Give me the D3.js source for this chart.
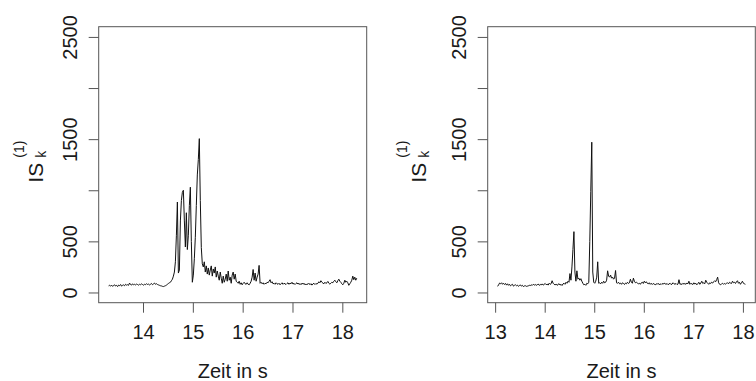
<!DOCTYPE html>
<html>
<head>
<meta charset="utf-8">
<script src="https://cdn.jsdelivr.net/npm/d3@7"></script>
<style>
  html, body { margin: 0; padding: 0; background: #fff; }
  svg { display: block; }
  text { font-family: "Liberation Sans", Arial, Helvetica, sans-serif; fill: #1a1a1a; }
</style>
</head>
<body>
<svg id="chart" width="756" height="381"></svg>
<script>
// Sampling: both series are sampled every 0.02 s
const step = 0.02;
const startLeft = 13.31;
const startRight = 13.05;

// Left panel: IS_k^(1) values
const valuesLeft = [
  65, 70, 62, 72, 60, 68, 75, 63, 70, 58,
  72, 66, 78, 62, 70, 74, 66, 80, 72, 76,
  70, 92, 78, 72, 84, 76, 80, 74, 82, 78,
  72, 80, 76, 84, 78, 72, 80, 76, 86, 78,
  82, 74, 80, 88, 76, 84, 92, 80, 86, 78,
  74, 70, 66, 64, 60, 58, 62, 66, 72, 80,
  88, 95, 100, 115, 130, 160, 200, 300, 560, 885,
  190, 220, 700, 900, 980, 1000, 700, 445, 780, 420,
  560, 850, 1030, 500, 100, 170, 330, 540, 850, 1150,
  1300, 1505, 900, 440, 280, 250, 300, 200, 260, 180,
  240, 170, 220, 260, 160, 230, 190, 250, 150, 210,
  160, 120, 200, 140, 90, 160, 100, 130, 180, 110,
  210, 120, 150, 90, 170, 200, 130, 180, 110, 100,
  90, 110, 80, 95, 75, 90, 100, 85, 80, 95,
  80, 75, 90, 110, 150, 225, 120, 190, 110, 150,
  180, 265, 90, 100, 85, 95, 80, 90, 85, 100,
  95, 110, 125, 95, 105, 85, 90, 80, 95, 85,
  80, 90, 75, 85, 95, 80, 90, 85, 78, 88,
  95, 80, 92, 85, 100, 82, 90, 78, 88, 95,
  82, 90, 76, 88, 80, 92, 78, 86, 74, 84,
  80, 90, 76, 86, 72, 84, 90, 78, 88, 82,
  90, 105, 95, 115, 100, 92, 85, 100, 88, 95,
  108, 90, 82, 90, 100, 95, 110, 120, 105, 95,
  115, 130, 110, 100, 85, 75, 90, 120, 100, 110,
  95, 70, 85, 100, 120, 160, 125, 150, 120, 140
];

// Right panel: IS_k^(1) values
const valuesRight = [
  60, 75, 92, 85, 95, 80, 90, 78, 88, 72,
  85, 70, 80, 65, 74, 80, 62, 70, 75, 66,
  72, 60, 68, 74, 62, 70, 58, 64, 66, 60,
  62, 65, 70, 68, 74, 70, 80, 72, 78, 70,
  76, 82, 70, 78, 74, 84, 72, 80, 88, 76,
  82, 72, 90, 80, 86, 115, 90, 80, 74, 82,
  70, 78, 86, 72, 80, 68, 84, 90, 80, 100,
  90, 110, 100, 185, 120, 250, 420, 595, 200, 110,
  212, 130, 140, 120, 135, 110, 90, 75, 80, 70,
  90, 85, 100, 500, 990, 1470, 200, 100, 90, 110,
  150, 300, 90, 95, 85, 100, 90, 110, 95, 100,
  120, 212, 160, 150, 170, 140, 150, 130, 140, 215,
  95, 90, 100, 85, 92, 80, 95, 88, 78, 92,
  85, 100, 88, 95, 130, 100, 90, 140, 110, 95,
  100, 92, 85, 90, 80, 95, 100, 88, 110, 95,
  105, 90, 85, 95, 80, 90, 78, 88, 82, 75,
  85, 80, 90, 76, 84, 78, 88, 80, 92, 85,
  80, 88, 76, 84, 90, 78, 82, 95, 85, 80,
  88, 78, 82, 125, 80, 85, 78, 90, 82, 88,
  80, 92, 85, 110, 80, 90, 84, 78, 95, 82,
  90, 75, 86, 100, 80, 92, 110, 88, 95, 85,
  120, 100, 90, 80, 95, 88, 100, 92, 105, 115,
  105, 125, 150, 95, 80, 75, 85, 90, 80, 88,
  82, 90, 95, 85, 100, 92, 88, 110, 95, 100,
  88, 105, 115, 90, 100, 80, 95, 110, 90, 85,
  80
];

// Axis ticks
const xTicksLeft = [14, 15, 16, 17, 18];
const xTicksRight = [13, 14, 15, 16, 17, 18];
const yTicks = [0, 500, 1000, 1500, 2000, 2500];
const yTickLabels = ["0", "500", "", "1500", "", "2500"];
const yLimits = [0, 2500];
const xTitle = "Zeit in s";

const svg = d3.select("#chart");
const boxTop = 26.7, boxBottom = 302.7;
const tickLen = 10;
const fontSize = "20px";

// R-style 4% padding around a range
function padded(lo, hi) {
  const r = hi - lo;
  return [lo - 0.04 * r, hi + 0.04 * r];
}

function drawPanel(opts) {
  const { left, right, start, values, xTicks, labelX } = opts;
  const data = values.map((v, i) => ({ t: start + i * step, v }));

  const x = d3.scaleLinear()
    .domain(padded(d3.min(data, d => d.t), d3.max(data, d => d.t)))
    .range([left, right]);
  const y = d3.scaleLinear()
    .domain(padded(yLimits[0], yLimits[1]))
    .range([boxBottom, boxTop]);

  const g = svg.append("g");

  // Series line
  g.append("path")
    .datum(data)
    .attr("fill", "none")
    .attr("stroke", "#111")
    .attr("stroke-width", 1)
    .attr("stroke-linejoin", "round")
    .attr("d", d3.line().x(d => x(d.t)).y(d => y(d.v)));

  // Plot frame
  g.append("rect")
    .attr("x", left).attr("y", boxTop)
    .attr("width", right - left).attr("height", boxBottom - boxTop)
    .attr("fill", "none").attr("stroke", "#555").attr("stroke-width", 1);

  // Bottom axis
  const xa = g.append("g")
    .attr("transform", `translate(0,${boxBottom})`)
    .call(d3.axisBottom(x).tickValues(xTicks).tickSize(tickLen).tickFormat(d3.format("d")));
  xa.select(".domain").remove();
  xa.selectAll(".tick line").attr("stroke", "#555");
  xa.attr("font-family", null).attr("font-size", null);
  xa.selectAll(".tick text")
    .attr("y", 36.8).attr("dy", 0)
    .style("font-size", fontSize).attr("fill", "#1a1a1a");

  // Left axis, labels turned parallel to the axis
  const ya = g.append("g")
    .attr("transform", `translate(${left},0)`)
    .call(d3.axisLeft(y).tickValues(yTicks).tickSize(tickLen)
      .tickFormat((d, i) => yTickLabels[i]));
  ya.select(".domain").remove();
  ya.selectAll(".tick line").attr("stroke", "#555");
  ya.attr("font-family", null).attr("font-size", null);
  ya.selectAll(".tick text")
    .attr("transform", "rotate(-90)")
    .attr("x", 0).attr("y", -21.3).attr("dy", 0)
    .attr("text-anchor", "middle")
    .style("font-size", fontSize).attr("fill", "#1a1a1a");

  // Axis titles
  g.append("text")
    .attr("x", (left + right) / 2).attr("y", 377.5)
    .attr("text-anchor", "middle")
    .style("font-size", fontSize)
    .text(xTitle);

  const yt = g.append("g")
    .attr("transform", `translate(${labelX},${(boxTop + boxBottom) / 2 + 18}) rotate(-90)`);
  yt.append("text").attr("x", 0).attr("y", 0).style("font-size", "21px").text("IS");
  yt.append("text").attr("x", 25).attr("y", 3).style("font-size", "14px").text("k");
  yt.append("text").attr("x", 25).attr("y", -19).style("font-size", "14px").text("(1)");
}

drawPanel({ left: 98.7, right: 366.7, start: startLeft, values: valuesLeft, xTicks: xTicksLeft, labelX: 43.3 });
drawPanel({ left: 487.7, right: 755.3, start: startRight, values: valuesRight, xTicks: xTicksRight, labelX: 426 });
</script>
</body>
</html>
